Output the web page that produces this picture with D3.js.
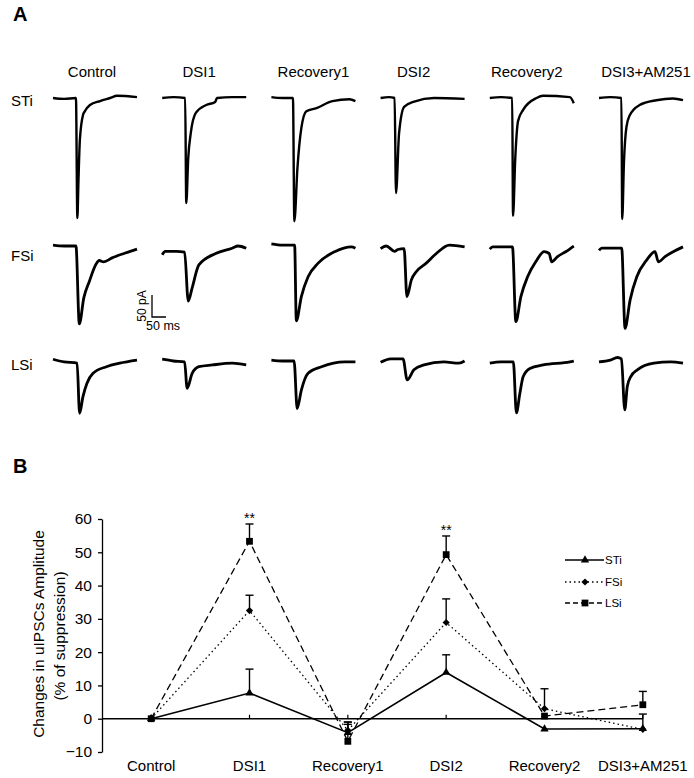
<!DOCTYPE html>
<html>
<head>
<meta charset="utf-8">
<script src="https://cdn.jsdelivr.net/npm/d3@7"></script>
<style>
  html, body { margin: 0; padding: 0; background: #fff; }
  svg { display: block; font-family: "Liberation Sans", Arial, sans-serif; }
</style>
</head>
<body>
<div id="container"></div>
<script>
"use strict";

// Conditions (columns in A, categories in B).
const conditions = ["Control", "DSI1", "Recovery1", "DSI2", "Recovery2", "DSI3+AM251"];
const cellTypes = ["STi", "FSi", "LSi"];

// Panel A: example uIPSC traces, [time (ms), current (pA)] relative to baseline.
const stiTraces = [
  [[0, 0], [40, -2], [82, 0], [87, -273], [91, -186], [96, -95], [107, -39], [114, -30], [132, -16], [168, -7], [204, 0], [229, 5], [300, 2]],
  [[0, 0], [40, 2], [82, 0], [86, -239], [93, -136], [102, -80], [120, -34], [157, -16], [189, -9], [196, 0], [250, 2], [300, 2]],
  [[0, 2], [40, 0], [77, 0], [82, -280], [93, -159], [107, -68], [125, -30], [161, -23], [218, -7], [279, -3], [300, -7]],
  [[0, 0], [30, 2], [50, 0], [55, -216], [66, -80], [84, -20], [120, -8], [191, 0], [300, -2]],
  [[0, 0], [40, 2], [80, 0], [83, -268], [91, -136], [101, -52], [119, -27], [167, 0], [190, 5], [286, 2], [300, -12]],
  [[0, 0], [40, 2], [80, 0], [83, -275], [89, -148], [98, -66], [110, -39], [145, -16], [205, -5], [264, -1], [300, -5]]
];
const fsiTraces = [
  [[0, 2], [40, 0], [82, 0], [94, -177], [110, -118], [130, -80], [154, -41], [165, -33], [181, -36], [211, -27], [258, -16], [300, -7]],
  [[0, -20], [11, -12], [50, -12], [80, -14], [93, -125], [107, -95], [131, -43], [191, -17], [250, -5], [271, 0], [300, -5]],
  [[0, 5], [40, 2], [83, 2], [89, -170], [107, -115], [131, -70], [167, -39], [226, -13], [286, -2], [300, -5]],
  [[0, -6], [20, 0], [50, -12], [62, -8], [84, -6], [94, -115], [110, -77], [128, -58], [163, -39], [199, -17], [246, 2], [300, -2]],
  [[0, -7], [10, -2], [81, -2], [93, -172], [111, -115], [135, -70], [164, -36], [194, -13], [212, -17], [221, -36], [242, -24], [271, -13], [300, 0]],
  [[0, -10], [10, -5], [81, -5], [93, -187], [111, -123], [135, -70], [170, -32], [200, -13], [212, -36], [236, -24], [265, -13], [300, -2]]
];
const lsiTraces = [
  [[0, 4], [40, -2], [86, -5], [95, -119], [107, -81], [121, -51], [143, -28], [191, -13], [238, -5], [300, 2]],
  [[0, 4], [40, 0], [80, -2], [89, -62], [107, -28], [131, -13], [179, -9], [250, -5], [300, -9]],
  [[0, 2], [40, 0], [81, 0], [92, -108], [107, -66], [131, -28], [179, -13], [262, -2], [300, -2]],
  [[0, -3], [36, 5], [80, 5], [95, -43], [119, -20], [155, -9], [226, -2], [280, -5], [300, 0]],
  [[0, -5], [40, -2], [84, -2], [95, -118], [107, -75], [119, -36], [143, -17], [191, -9], [286, -2], [300, 0]],
  [[0, -2], [40, 2], [66, 8], [80, 5], [92, -111], [101, -58], [113, -36], [137, -20], [196, -5], [256, -2], [300, -5]]
];
const scaleBarPA = 50;
const scaleBarMs = 50;

// Panel B: % suppression, mean and upper error (SEM) per condition.
const stiMean = [0, 7.7, -4.2, 13.9, -3.1, -3];
const stiErr = [0, 7.2, 2.5, 5.3, 0, 4.4];
const fsiMean = [0, 32.5, -3.5, 28.9, 3.0, -3.2];
const fsiErr = [0, 4.6, 2.5, 7.1, 6, 0];
const lsiMean = [0, 53.3, -6.8, 49.3, 0.8, 4.2];
const lsiErr = [0, 5.2, 5.8, 5.6, 0, 4];
const stars = ["", "**", "", "**", "", ""];
const yTicks = [-10, 0, 10, 20, 30, 40, 50, 60];

const width = 694;
const height = 778;

const svg = d3.select("#container").append("svg")
  .attr("width", width)
  .attr("height", height);

svg.append("rect").attr("width", width).attr("height", height).attr("fill", "#fff");

// ---------- Panel A ----------
svg.append("text").attr("x", 13).attr("y", 21)
  .style("font-size", "20px").style("font-weight", "bold").text("A");

const colX = d3.scalePoint().domain(conditions).range([53, 599]);
const rowBaseline = { STi: 98, FSi: 246, LSi: 361 };
const rowLabelY = { STi: 106, FSi: 261, LSi: 370 };
const titleNudge = [-3, -5, 0, -9, -5, 5];

// time/current to pixels, shared with the scale bar
const tScale = d3.scaleLinear().domain([0, 300]).range([0, 84]);
const iScale = d3.scaleLinear().domain([0, -50]).range([0, 22]);

conditions.forEach((c, i) => {
  svg.append("text")
    .attr("x", colX(c) + 42 + titleNudge[i])
    .attr("y", 77)
    .attr("text-anchor", "middle")
    .style("font-size", "15px")
    .text(c);
});

const traceLine = d3.line()
  .x((d) => tScale(d[0]))
  .y((d) => iScale(d[1]))
  .curve(d3.curveMonotoneX);

const tracesByType = { STi: stiTraces, FSi: fsiTraces, LSi: lsiTraces };

cellTypes.forEach((type) => {
  svg.append("text")
    .attr("x", 11)
    .attr("y", rowLabelY[type])
    .style("font-size", "15px")
    .text(type);

  tracesByType[type].forEach((trace, i) => {
    svg.append("path")
      .attr("transform", `translate(${colX(conditions[i])}, ${rowBaseline[type]})`)
      .attr("d", traceLine(trace))
      .attr("fill", "none")
      .attr("stroke", "#000")
      .attr("stroke-width", type === "STi" ? 2.4 : 2.8)
      .attr("stroke-linejoin", "round");
  });
});

// Scale bar (corner at bottom-left)
const barH = iScale(-scaleBarPA);
const barW = tScale(scaleBarMs);
const sb = svg.append("g").attr("transform", "translate(152, 295)");
sb.append("path")
  .attr("d", `M0,0V${barH}H${barW}`)
  .attr("fill", "none")
  .attr("stroke", "#000")
  .attr("stroke-width", 1.3);
sb.append("text")
  .attr("transform", `translate(-6.5, ${barH / 2}) rotate(-90)`)
  .attr("text-anchor", "middle")
  .style("font-size", "12px")
  .text(`${scaleBarPA} pA`);
sb.append("text")
  .attr("x", -6)
  .attr("y", barH + 12.5)
  .style("font-size", "12.5px")
  .text(`${scaleBarMs} ms`);

// ---------- Panel B ----------
svg.append("text").attr("x", 13).attr("y", 473)
  .style("font-size", "20px").style("font-weight", "bold").text("B");

const x = d3.scalePoint().domain(conditions).range([102, 692]).padding(0.5);
const y = d3.scaleLinear().domain([-10, 60]).range([752, 519]);

// Y axis
svg.append("g")
  .attr("transform", "translate(102, 0)")
  .call(d3.axisLeft(y).tickValues(yTicks).tickSize(4).tickSizeOuter(0).tickPadding(6))
  .call((g) => g.attr("font-family", null).attr("font-size", null))
  .call((g) => g.selectAll("text").style("font-size", "15.5px").attr("fill", "#000"))
  .call((g) => g.selectAll("line, path").attr("stroke", "#000").attr("stroke-width", 1.3));

// Y axis title
svg.append("text")
  .attr("transform", `translate(44, 634) rotate(-90)`)
  .attr("text-anchor", "middle")
  .style("font-size", "15.5px")
  .text("Changes in uIPSCs Amplitude");
svg.append("text")
  .attr("transform", `translate(65, 636) rotate(-90)`)
  .attr("text-anchor", "middle")
  .style("font-size", "15.5px")
  .text("(% of suppression)");

// Zero line with small category ticks
svg.append("line")
  .attr("x1", 102).attr("x2", x(conditions[conditions.length - 1]))
  .attr("y1", y(0)).attr("y2", y(0))
  .attr("stroke", "#000").attr("stroke-width", 1.5);
svg.append("g").selectAll("line")
  .data(conditions)
  .join("line")
  .attr("x1", (d) => x(d)).attr("x2", (d) => x(d))
  .attr("y1", y(0) - 4).attr("y2", y(0))
  .attr("stroke", "#000").attr("stroke-width", 1.2);

// Category labels
svg.append("g").selectAll("text")
  .data(conditions)
  .join("text")
  .attr("x", (d) => x(d))
  .attr("y", 771)
  .attr("text-anchor", "middle")
  .style("font-size", "15px")
  .text((d) => d);

const series = [
  { name: "LSi", mean: lsiMean, err: lsiErr, dash: "7,4", width: 1.3, symbol: d3.symbolSquare, size: 46, rotate: 0 },
  { name: "FSi", mean: fsiMean, err: fsiErr, dash: "1.5,3", width: 1.3, symbol: d3.symbolSquare, size: 26, rotate: 45 },
  { name: "STi", mean: stiMean, err: stiErr, dash: null, width: 1.6, symbol: d3.symbolTriangle, size: 30, rotate: 0 }
];

const seriesLine = d3.line()
  .x((d, i) => x(conditions[i]))
  .y((d) => y(d));

series.forEach((s) => {
  svg.append("path")
    .attr("d", seriesLine(s.mean))
    .attr("fill", "none")
    .attr("stroke", "#000")
    .attr("stroke-width", s.width)
    .attr("stroke-dasharray", s.dash);
});

// Error bars (upper only)
series.forEach((s) => {
  const g = svg.append("g").attr("stroke", "#000").attr("stroke-width", 1.4);
  s.mean.forEach((m, i) => {
    if (!s.err[i]) return;
    const cx = x(conditions[i]);
    const top = y(m + s.err[i]);
    g.append("line").attr("x1", cx).attr("x2", cx).attr("y1", y(m)).attr("y2", top);
    g.append("line").attr("x1", cx - 4).attr("x2", cx + 4).attr("y1", top).attr("y2", top);
  });
});

// Markers
series.forEach((s) => {
  svg.append("g").selectAll("path")
    .data(s.mean)
    .join("path")
    .attr("transform", (d, i) => `translate(${x(conditions[i])}, ${y(d)}) rotate(${s.rotate})`)
    .attr("d", d3.symbol(s.symbol, s.size))
    .attr("fill", "#000");
});

// Significance stars above LSi error bars
svg.append("g").selectAll("text")
  .data(stars)
  .join("text")
  .attr("x", (d, i) => x(conditions[i]))
  .attr("y", (d, i) => y(lsiMean[i] + lsiErr[i]) - 1)
  .attr("text-anchor", "middle")
  .style("font-size", "14px")
  .text((d) => d);

// Legend
const legendY = { STi: 560, FSi: 582, LSi: 603 };
series.forEach((s) => {
  const g = svg.append("g").attr("transform", `translate(565, ${legendY[s.name]})`);
  g.append("line")
    .attr("x1", 0).attr("x2", 39)
    .attr("stroke", "#000")
    .attr("stroke-width", s.width)
    .attr("stroke-dasharray", s.dash ? (s.name === "LSi" ? "5,3" : s.dash) : null);
  g.append("path")
    .attr("transform", `translate(20, 0) rotate(${s.rotate})`)
    .attr("d", d3.symbol(s.symbol, s.size))
    .attr("fill", "#000");
  g.append("text")
    .attr("x", 40)
    .attr("y", 4)
    .style("font-size", "11.5px")
    .text(s.name);
});
</script>
</body>
</html>
